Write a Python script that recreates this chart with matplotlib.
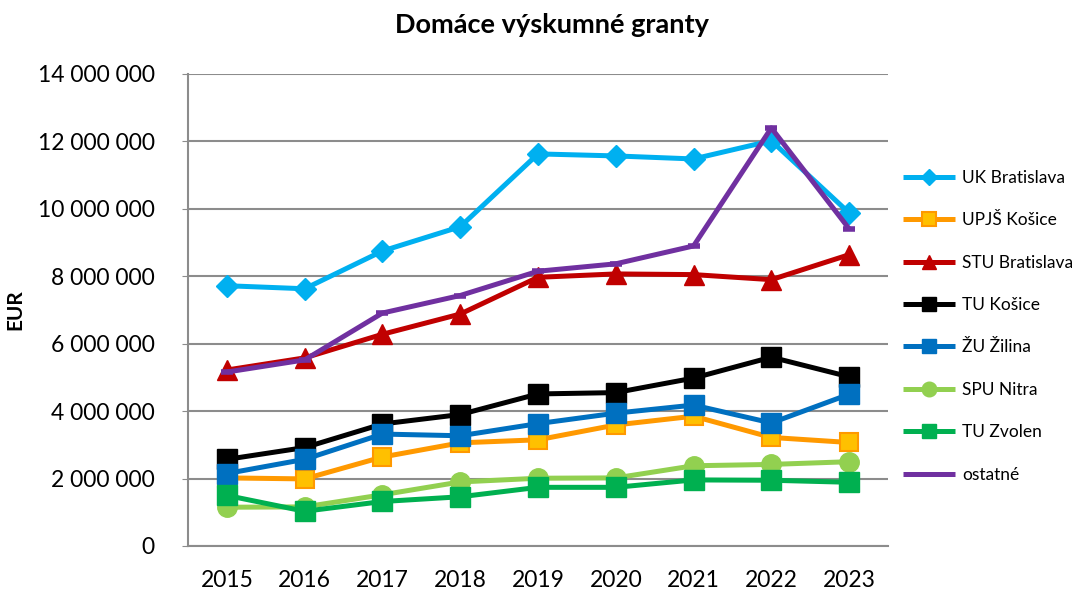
import matplotlib
matplotlib.use("Agg")
import matplotlib.pyplot as plt
from matplotlib.ticker import FuncFormatter, MultipleLocator

plt.rcParams['font.family'] = ['Lato', 'DejaVu Sans']

years = ["2015", "2016", "2017", "2018", "2019", "2020", "2021", "2022", "2023"]

uk_bratislava = [7.72e6, 7.63e6, 8.75e6, 9.47e6, 11.63e6, 11.57e6, 11.48e6, 12.02e6, 9.88e6]
upjs_kosice = [2.02e6, 1.99e6, 2.64e6, 3.06e6, 3.15e6, 3.59e6, 3.85e6, 3.22e6, 3.07e6]
stu_bratislava = [5.22e6, 5.58e6, 6.28e6, 6.88e6, 7.97e6, 8.07e6, 8.05e6, 7.90e6, 8.64e6]
tu_kosice = [2.57e6, 2.92e6, 3.62e6, 3.90e6, 4.51e6, 4.55e6, 4.98e6, 5.60e6, 5.02e6]
zu_zilina = [2.15e6, 2.57e6, 3.32e6, 3.27e6, 3.63e6, 3.94e6, 4.18e6, 3.65e6, 4.50e6]
spu_nitra = [1.15e6, 1.16e6, 1.52e6, 1.90e6, 2.01e6, 2.02e6, 2.38e6, 2.42e6, 2.50e6]
tu_zvolen = [1.50e6, 1.03e6, 1.32e6, 1.46e6, 1.74e6, 1.74e6, 1.96e6, 1.95e6, 1.89e6]
ostatne = [5.16e6, 5.52e6, 6.91e6, 7.43e6, 8.15e6, 8.37e6, 8.90e6, 12.40e6, 9.41e6]

series = [
    ("UK Bratislava", uk_bratislava, dict(color="#00B0F0", marker="D", markersize=11, mfc="#00B0F0", mec="#00B0F0")),
    ("UPJŠ Košice", upjs_kosice, dict(color="#FF9900", marker="s", markersize=13, mfc="#FFC000", mec="#FF9900", mew=1.5)),
    ("STU Bratislava", stu_bratislava, dict(color="#C00000", marker="^", markersize=14, mfc="#C00000", mec="#C00000")),
    ("TU Košice", tu_kosice, dict(color="#000000", marker="s", markersize=14, mfc="#000000", mec="#000000")),
    ("ŽU Žilina", zu_zilina, dict(color="#0070C0", marker="s", markersize=14, mfc="#0070C0", mec="#0070C0")),
    ("SPU Nitra", spu_nitra, dict(color="#92D050", marker="o", markersize=14, mfc="#92D050", mec="#92D050")),
    ("TU Zvolen", tu_zvolen, dict(color="#00B050", marker="s", markersize=14, mfc="#00B050", mec="#00B050")),
    ("ostatné", ostatne, dict(color="#7030A0", marker="_", markersize=9, mew=4, mfc="#7030A0", mec="#7030A0")),
]

fig = plt.figure(figsize=(10.85, 5.9), dpi=100)
ax = fig.add_axes([188/1085, 1-546/590, (888-188)/1085, (546-74)/590])

x = list(range(len(years)))
for i, (name, vals, st) in enumerate(series):
    ax.plot(x, vals, linewidth=3.6, label=name, zorder=3+i, solid_capstyle='butt', **st)

ax.set_xlim(-0.5, len(years)-0.5)
ax.set_ylim(0, 14e6)
ax.yaxis.set_major_locator(MultipleLocator(2e6))
ax.yaxis.set_major_formatter(FuncFormatter(lambda v, p: f"{int(v):,}".replace(",", " ")))
ax.set_xticks(x)
ax.set_xticklabels(years)
ax.grid(axis='y', color='#8c8c8c', linewidth=1.5, zorder=0)
ax.set_axisbelow(True)
for s in ['top', 'right']:
    ax.spines[s].set_visible(False)
for s in ['left', 'bottom']:
    ax.spines[s].set_color('#8c8c8c')
    ax.spines[s].set_linewidth(1.5)
ax.tick_params(axis='y', length=4, color='#8c8c8c', labelsize=16.5, pad=20)
ax.tick_params(axis='x', length=0, labelsize=16.5, pad=17)
ax.set_ylabel("EUR", fontsize=15, fontweight='bold')
ax.yaxis.set_label_coords(-0.232, 0.5)

fig.text(552/1085, 1-25/590, "Domáce výskumné granty", ha='center', va='center', fontsize=19.5, fontweight='bold')

leg = ax.legend(loc='upper left', bbox_to_anchor=(896/1085, 1-163/590), bbox_transform=fig.transFigure,
                frameon=False, fontsize=12.5, labelspacing=1.52, handlelength=3.0, handletextpad=0.4,
                markerscale=0.75, borderaxespad=0)
leg.get_lines()[-1].set_marker('')

fig.savefig("out.png", dpi=100)
